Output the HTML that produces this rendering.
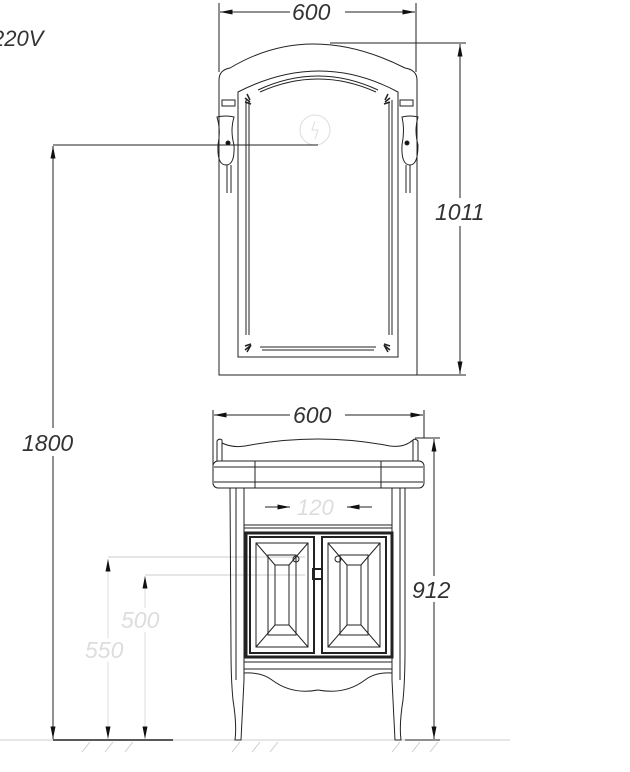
<!DOCTYPE html>
<html><head><meta charset="utf-8"><style>
html,body{margin:0;padding:0;background:#fff;width:630px;height:772px;overflow:hidden}
svg{display:block}
text{font-family:"Liberation Sans",sans-serif;font-style:italic}
</style></head><body>
<svg width="630" height="772" viewBox="0 0 630 772" xmlns="http://www.w3.org/2000/svg" fill="none" stroke="#222" stroke-width="1">
<defs>
<marker id="a" viewBox="0 0 10 4" refX="10" refY="2" markerWidth="16" markerHeight="5" orient="auto-start-reverse" markerUnits="userSpaceOnUse"><path d="M0,0L10,2L0,4z" fill="#111" stroke="none"/></marker>
</defs>
<text x="-8" y="46" font-size="22" fill="#333" stroke="none">220V</text>

<!-- top 600 -->
<line x1="219" y1="3" x2="219" y2="72"/>
<line x1="416" y1="3" x2="416" y2="72"/>
<line x1="220" y1="12" x2="290" y2="12" marker-start="url(#a)"/>
<line x1="345" y1="12" x2="415" y2="12" marker-end="url(#a)"/>
<text x="292" y="20" font-size="23" fill="#333" stroke="none">600</text>

<!-- 1011 -->
<line x1="330" y1="43" x2="466" y2="43"/>
<line x1="416" y1="375" x2="466" y2="375"/>
<line x1="460" y1="44" x2="460" y2="374" marker-start="url(#a)" marker-end="url(#a)"/>
<rect x="433" y="198" width="54" height="28" fill="#fff" stroke="none"/>
<text x="435" y="220" font-size="23" fill="#333" stroke="none">1011</text>

<!-- Mirror -->
<path d="M219,375 L219,80 Q219,70 230,68 Q310,20 405,68 Q417,70 417,80 L417,375 Z"/>
<path d="M238,357 L238,92 Q320,50 398,92 L398,357 Z"/>
<path d="M246,335 L246,100"/><path d="M249,335 L249,102"/>
<path d="M392,335 L392,100"/><path d="M389,335 L389,102"/>
<path d="M258,90 Q318,62 378,90"/><path d="M260,92 Q318,66 376,92"/>
<line x1="260" y1="347" x2="376" y2="347"/><line x1="262" y1="350" x2="374" y2="350"/>
<path d="M245,98 l5,4 M245,102 l6,2 M247,94 l3,6" stroke-width="1.5"/>
<path d="M390,98 l-5,4 M390,102 l-6,2 M388,94 l-3,6" stroke-width="1.5"/>
<path d="M245,350 l5,-4 M245,346 l6,-2 M247,352 l4,-7" stroke-width="1.5"/>
<path d="M390,350 l-5,-4 M390,346 l-6,-2 M388,352 l-4,-7" stroke-width="1.5"/>
<rect x="222" y="100" width="13" height="6"/><rect x="400" y="100" width="13" height="6"/>
<path d="M217,117 Q226,115 234,117 Q230,130 234,145 Q235,165 226,165 Q217,165 218,145 Q221,130 217,117Z"/>
<path d="M402,117 Q410,115 418,117 Q414,130 418,145 Q418,165 410,165 Q401,165 402,145 Q405,130 402,117Z"/>
<line x1="227" y1="165" x2="227" y2="193"/><line x1="231" y1="165" x2="231" y2="193"/>
<line x1="406" y1="165" x2="406" y2="193"/><line x1="410" y1="165" x2="410" y2="193"/>
<circle cx="228" cy="143" r="2" fill="#111"/><circle cx="407" cy="143" r="2" fill="#111"/>
<circle cx="315" cy="130" r="15" stroke="#ddd"/>
<path d="M315,121 l-3,9 h6 l-3,9" stroke="#ddd"/>

<!-- 1800 -->
<line x1="53" y1="145" x2="318" y2="145"/>
<line x1="53" y1="146" x2="53" y2="739" marker-start="url(#a)" marker-end="url(#a)"/>
<rect x="20" y="428" width="64" height="28" fill="#fff" stroke="none"/>
<text x="22" y="451" font-size="23" fill="#333" stroke="none">1800</text>

<!-- ground -->
<line x1="0" y1="740" x2="510" y2="740" stroke="#ccc"/>
<line x1="53" y1="740" x2="173" y2="740" stroke-width="1.5"/>
<path d="M82,752 l8,-10 M105,752 l8,-10 M125,752 l8,-10 M232,752 l8,-10 M252,752 l8,-10 M270,752 l8,-10 M392,752 l8,-10 M412,752 l8,-10 M430,752 l8,-10" stroke="#ccc"/>

<!-- 550 / 500 -->
<line x1="108" y1="557" x2="305" y2="557" stroke="#ccc"/>
<line x1="145" y1="575" x2="305" y2="575" stroke="#ccc"/>
<line x1="108" y1="559" x2="108" y2="739" stroke="#ddd" marker-start="url(#a)" marker-end="url(#a)"/>
<line x1="145" y1="576" x2="145" y2="739" stroke="#ddd" marker-start="url(#a)" marker-end="url(#a)"/>
<rect x="83" y="638" width="50" height="24" fill="#fff" stroke="none"/>
<rect x="120" y="608" width="50" height="24" fill="#fff" stroke="none"/>
<text x="85" y="658" font-size="23" fill="#ddd" stroke="none">550</text>
<text x="121" y="628" font-size="23" fill="#ddd" stroke="none">500</text>

<!-- vanity 600 -->
<line x1="213" y1="410" x2="213" y2="465"/>
<line x1="424" y1="410" x2="424" y2="438"/>
<line x1="214" y1="415" x2="290" y2="415" marker-start="url(#a)"/>
<line x1="345" y1="415" x2="423" y2="415" marker-end="url(#a)"/>
<text x="293" y="423" font-size="23" fill="#333" stroke="none">600</text>

<!-- 912 -->
<line x1="415" y1="438" x2="440" y2="438"/>
<line x1="405" y1="740" x2="440" y2="740"/>
<line x1="434" y1="439" x2="434" y2="739" marker-start="url(#a)" marker-end="url(#a)"/>
<rect x="410" y="576" width="48" height="26" fill="#fff" stroke="none"/>
<text x="412" y="598" font-size="23" fill="#333" stroke="none">912</text>

<!-- counter -->
<path d="M217,461 L217,441 Q219,438 222,440 L222,461"/>
<path d="M413,461 L413,440 Q415,438 418,441 L418,461"/>
<path d="M222,443 Q232,448 245,446 Q318,432 390,446 Q404,448 413,440"/>
<rect x="213" y="461" width="211" height="27" rx="5"/>
<line x1="214" y1="467" x2="423" y2="467"/>
<line x1="214" y1="482" x2="423" y2="482"/>
<line x1="255" y1="461" x2="255" y2="488"/><line x1="381" y1="461" x2="381" y2="488"/>
<!-- legs -->
<path d="M230,488 L231,650 Q231,680 233,700 Q237,725 235,740 L241,740 Q243,700 244,680 L244,488"/>
<path d="M236,488 L236,680"/>
<path d="M405,488 L405,650 Q405,680 403,700 Q399,725 401,740 L395,740 Q393,700 392,680 L392,488"/>
<path d="M400,488 L400,680"/>
<!-- drawer -->
<line x1="244" y1="525" x2="392" y2="525"/>
<line x1="244" y1="528" x2="392" y2="528"/>
<line x1="265" y1="507" x2="290" y2="507" marker-end="url(#a)"/>
<line x1="372" y1="507" x2="347" y2="507" marker-end="url(#a)"/>
<text x="297" y="515" font-size="22" fill="#ddd" stroke="none">120</text>
<!-- doors -->
<rect x="246" y="533" width="146" height="124" stroke-width="3"/>
<rect x="250" y="537" width="64" height="116" stroke-width="2"/>
<rect x="322" y="537" width="64" height="116" stroke-width="2"/>
<rect x="256" y="543" width="52" height="104"/>
<rect x="328" y="543" width="52" height="104"/>
<rect x="268" y="555" width="28" height="80"/>
<rect x="340" y="555" width="28" height="80"/>
<rect x="275" y="565" width="14" height="60"/>
<rect x="347" y="565" width="14" height="60"/>
<path d="M256,543 L275,565 M308,543 L289,565 M256,647 L275,625 M308,647 L289,625"/>
<path d="M328,543 L347,565 M380,543 L361,565 M328,647 L347,625 M380,647 L361,625"/>
<rect x="313" y="569" width="9" height="10" stroke-width="2"/>
<circle cx="296" cy="559" r="3"/><circle cx="338" cy="559" r="3"/>
<!-- apron -->
<line x1="244" y1="662" x2="392" y2="662"/>
<line x1="244" y1="669" x2="392" y2="669"/>
<path d="M244,673 Q262,672 272,680 Q292,695 318,690 Q345,695 365,680 Q375,672 392,673"/>
</svg>
</body></html>
